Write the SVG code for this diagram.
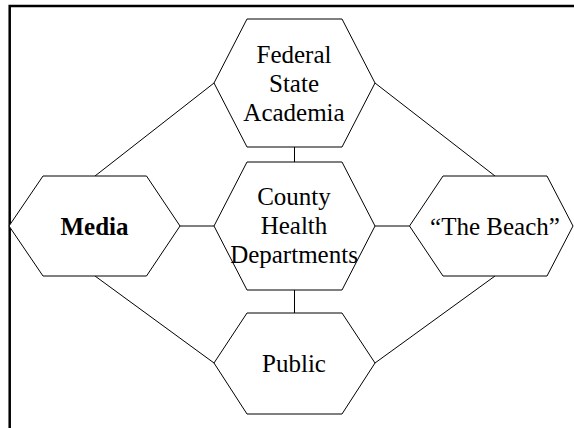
<svg xmlns="http://www.w3.org/2000/svg" width="574" height="428" viewBox="0 0 574 428">
<style>
.hex{fill:#fff;stroke:#000;stroke-width:1}
.con{stroke:#000;stroke-width:1;fill:none}
.frame{stroke:#000;stroke-width:2.5;fill:none}
text{font-family:"Liberation Serif","Times New Roman",serif;font-size:25px;fill:#000;text-anchor:middle}
.b{font-weight:bold}
</style>
<rect width="574" height="428" fill="#fff"/>
<path class="frame" d="M9.7,440 V6 H580"/>
<g id="connectors">
<line class="con" x1="294.5" y1="147" x2="294.5" y2="162"/>
<line class="con" x1="294.5" y1="290" x2="294.5" y2="313"/>
<line class="con" x1="180" y1="226" x2="214" y2="226"/>
<line class="con" x1="375" y1="226" x2="409.5" y2="226"/>
<line class="con" x1="214" y1="83" x2="95" y2="176"/>
<line class="con" x1="375" y1="83" x2="495" y2="176"/>
<line class="con" x1="95" y1="276" x2="214" y2="363"/>
<line class="con" x1="495" y1="276" x2="375" y2="363"/>
</g>
<g id="federal">
<polygon class="hex" points="214,83 247,19 342,19 375,83 342,147 247,147"/>
<text x="294" y="63">Federal</text>
<text x="294" y="92">State</text>
<text x="294" y="121">Academia</text>
</g>
<g id="county">
<polygon class="hex" points="214,226 247,162 342,162 375,226 342,290 247,290"/>
<text x="294" y="205">County</text>
<text x="294" y="234">Health</text>
<text x="294" y="263">Departments</text>
</g>
<g id="media">
<polygon class="hex" points="9,226 43,176 146.5,176 180,226 146.5,276 43,276"/>
<text class="b" x="94.5" y="235">Media</text>
</g>
<g id="beach">
<polygon class="hex" points="409.5,226 443,176 547,176 573,226 547,276 443,276"/>
<text x="495" y="235">“The Beach”</text>
</g>
<g id="public">
<polygon class="hex" points="214,363 247,313 342,313 375,363 342,414 247,414"/>
<text x="294" y="372">Public</text>
</g>
</svg>
